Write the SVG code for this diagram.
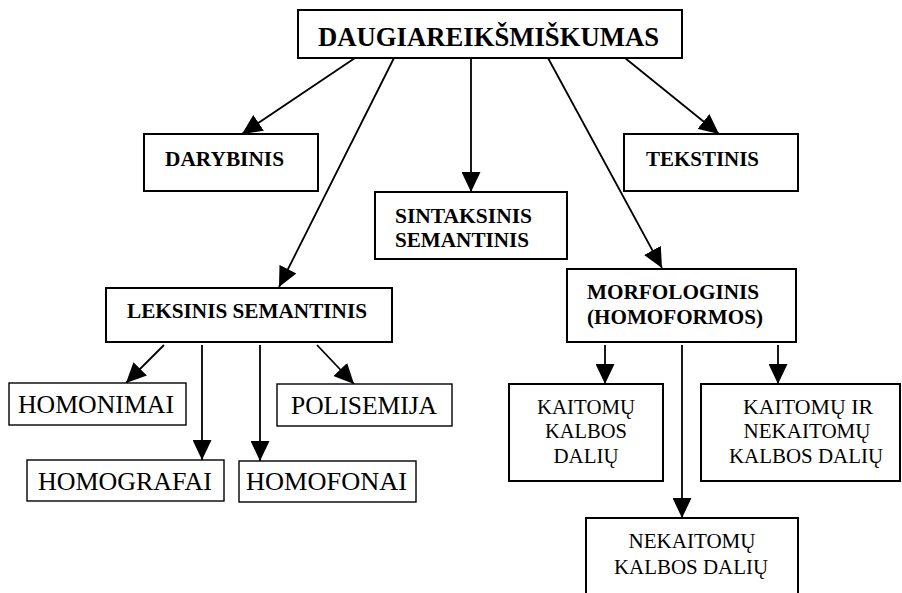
<svg xmlns="http://www.w3.org/2000/svg" width="902" height="593" viewBox="0 0 902 593">
<style>
  .box { fill: #fff; stroke: #000; stroke-width: 2; }
  .thin { stroke-width: 1.4; }
  text { font-family: 'Liberation Serif', Tinos, 'Times New Roman', Times, 'Nimbus Roman', 'Noto Serif', 'DejaVu Serif', serif; fill: #000; }
  .b { font-weight: bold; font-size: 21px; }
  .big { font-weight: bold; font-size: 27px; }
  .r26 { font-size: 26px; }
  .r21 { font-size: 21px; text-anchor: middle; }
  .edge { stroke: #000; stroke-width: 1.8; fill: none; marker-end: url(#arr); }
</style>
<defs>
  <marker id="arr" markerUnits="userSpaceOnUse" viewBox="0 0 20 19" markerWidth="20" markerHeight="19" refX="20" refY="9.5" orient="auto">
    <path d="M0,0 L20,9.5 L0,19 Z" fill="#000"/>
  </marker>
</defs>
<rect width="902" height="593" fill="#fff"/>

<g id="connectors">
  <line class="edge" x1="355" y1="58" x2="242" y2="134"/>
  <line class="edge" x1="394" y1="58" x2="279" y2="287"/>
  <line class="edge" x1="471" y1="58" x2="471" y2="192"/>
  <line class="edge" x1="548" y1="58" x2="662" y2="268"/>
  <line class="edge" x1="625" y1="58" x2="719" y2="134"/>
  <line class="edge" x1="164" y1="345" x2="126" y2="383"/>
  <line class="edge" x1="202" y1="345" x2="202" y2="460"/>
  <line class="edge" x1="260" y1="345" x2="260" y2="461"/>
  <line class="edge" x1="317" y1="345" x2="354" y2="384"/>
  <line class="edge" x1="605" y1="345" x2="605" y2="384"/>
  <line class="edge" x1="682" y1="345" x2="682" y2="518"/>
  <line class="edge" x1="778" y1="345" x2="778" y2="384"/>
</g>

<g id="n-daugiareiksmiskumas">
  <rect class="box" x="298" y="10" width="384" height="48"/>
  <text class="big" x="318" y="46" textLength="341" lengthAdjust="spacingAndGlyphs">DAUGIAREIKŠMIŠKUMAS</text>
</g>
<g id="n-darybinis">
  <rect class="box" x="144" y="134" width="174" height="57"/>
  <text class="b" x="165" y="166" textLength="119" lengthAdjust="spacingAndGlyphs">DARYBINIS</text>
</g>
<g id="n-sintaksinis">
  <rect class="box" x="375" y="192" width="192" height="67"/>
  <text class="b" x="395" y="223" textLength="137" lengthAdjust="spacingAndGlyphs">SINTAKSINIS</text>
  <text class="b" x="395" y="247" textLength="134" lengthAdjust="spacingAndGlyphs">SEMANTINIS</text>
</g>
<g id="n-tekstinis">
  <rect class="box" x="624" y="134" width="174" height="57"/>
  <text class="b" x="646" y="166" textLength="113" lengthAdjust="spacingAndGlyphs">TEKSTINIS</text>
</g>
<g id="n-leksinis">
  <rect class="box" x="106" y="288" width="286" height="54"/>
  <text class="b" x="127" y="318" textLength="240" lengthAdjust="spacingAndGlyphs">LEKSINIS SEMANTINIS</text>
</g>
<g id="n-morfologinis">
  <rect class="box" x="567" y="269" width="229" height="73"/>
  <text class="b" x="587" y="299" textLength="172" lengthAdjust="spacingAndGlyphs">MORFOLOGINIS</text>
  <text class="b" x="587" y="324" textLength="176" lengthAdjust="spacingAndGlyphs">(HOMOFORMOS)</text>
</g>
<g id="n-homonimai">
  <rect class="box thin" x="9" y="383" width="177" height="42"/>
  <text class="r26" x="18" y="413" textLength="156" lengthAdjust="spacingAndGlyphs">HOMONIMAI</text>
</g>
<g id="n-polisemija">
  <rect class="box thin" x="277" y="384" width="175" height="42"/>
  <text class="r26" x="291" y="414" textLength="146" lengthAdjust="spacingAndGlyphs">POLISEMIJA</text>
</g>
<g id="n-homografai">
  <rect class="box thin" x="27" y="460" width="197" height="41"/>
  <text class="r26" x="38" y="490" textLength="174" lengthAdjust="spacingAndGlyphs">HOMOGRAFAI</text>
</g>
<g id="n-homofonai">
  <rect class="box thin" x="239" y="461" width="177" height="41"/>
  <text class="r26" x="246" y="490" textLength="161" lengthAdjust="spacingAndGlyphs">HOMOFONAI</text>
</g>
<g id="n-kaitomu">
  <rect class="box" x="509" y="384" width="154" height="97"/>
  <text class="r21" x="586" y="414" textLength="98" lengthAdjust="spacingAndGlyphs">KAITOMŲ</text>
  <text class="r21" x="586" y="438" textLength="82" lengthAdjust="spacingAndGlyphs">KALBOS</text>
  <text class="r21" x="586" y="463" textLength="65" lengthAdjust="spacingAndGlyphs">DALIŲ</text>
</g>
<g id="n-kaitomu-ir-nekaitomu">
  <rect class="box" x="701" y="384" width="199" height="97"/>
  <text class="r21" x="808" y="414" textLength="130" lengthAdjust="spacingAndGlyphs">KAITOMŲ IR</text>
  <text class="r21" x="807" y="438" textLength="127" lengthAdjust="spacingAndGlyphs">NEKAITOMŲ</text>
  <text class="r21" x="806" y="463" textLength="154" lengthAdjust="spacingAndGlyphs">KALBOS DALIŲ</text>
</g>
<g id="n-nekaitomu">
  <rect class="box" x="586" y="518" width="212" height="90"/>
  <text class="r21" x="692" y="548" textLength="127" lengthAdjust="spacingAndGlyphs">NEKAITOMŲ</text>
  <text class="r21" x="691" y="574" textLength="154" lengthAdjust="spacingAndGlyphs">KALBOS DALIŲ</text>
</g>
</svg>
